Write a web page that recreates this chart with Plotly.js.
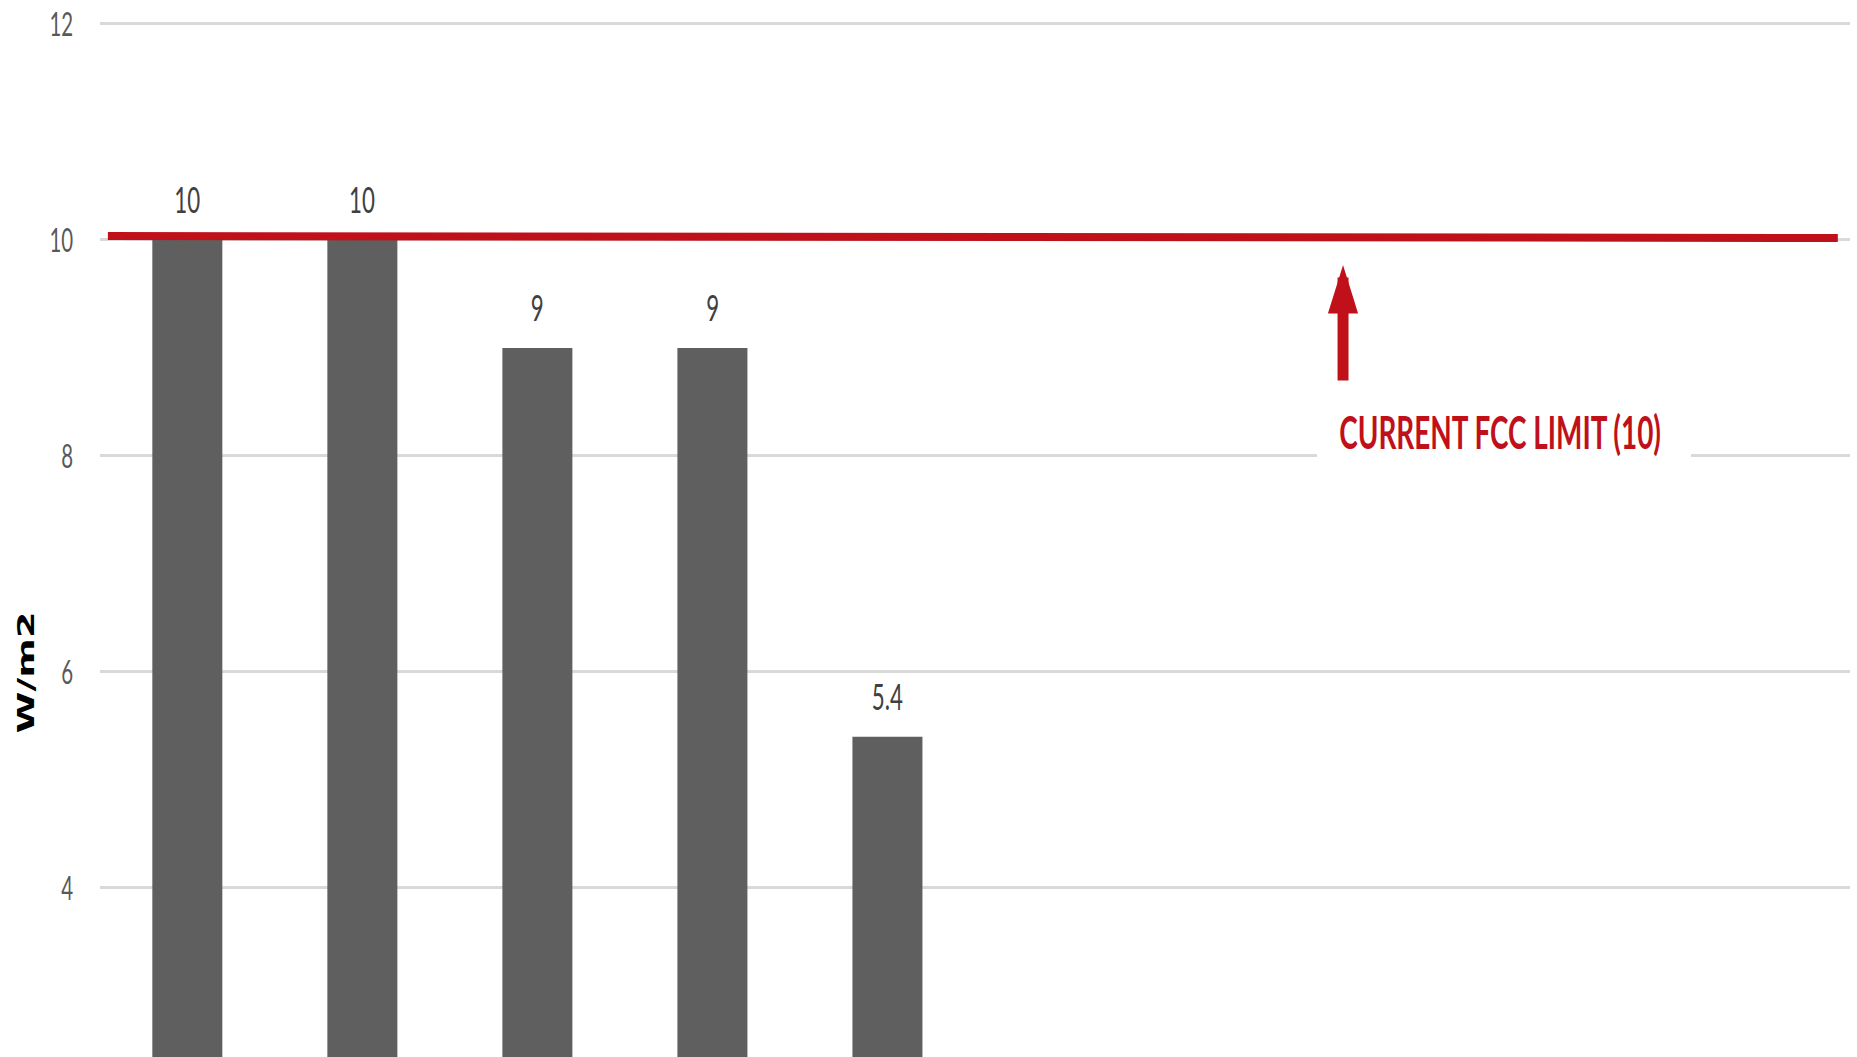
<!DOCTYPE html>
<html>
<head>
<meta charset="utf-8">
<script src="https://cdn.plot.ly/plotly-3.0.1.min.js"></script>
<style>
  html, body { margin: 0; padding: 0; width: 1857px; height: 1057px; overflow: hidden; background: #ffffff; }
  /* The chart is laid out wide and then narrowed horizontally for a condensed look. */
  #frame { width: 2995px; height: 1057px; transform: scaleX(0.62); transform-origin: 0 0; }
</style>
</head>
<body>
<div id="frame"><div id="chart"></div></div>
<script>
// Power density per measured slot (W/m2)
const slots = [0, 1, 2, 3, 4];
const exposure = [10, 10, 9, 9, 5.4];
const slotCount = 10;

// Regulatory limit
const fccLimit = 10;
const limitLabel = 'CURRENT FCC LIMIT (10)';

// Axis ticks
const yTicks = [4, 6, 8, 10, 12];
const yTickText = ['4', '6', '8', '10', '12'];
const yTitle = 'W/m2';

const SX = 0.62;            // horizontal squeeze applied by CSS
const W = 2995, H = 1057;
const ML = 100 / SX, MR = 7 / SX;

const barTrace = {
  type: 'bar',
  x: slots,
  y: exposure,
  width: 0.4,
  marker: { color: '#5f5f5f', line: { width: 0 } },
  hoverinfo: 'skip',
  showlegend: false
};

const valueLabels = slots.map((s, i) => ({
  x: s, y: exposure[i], xref: 'x', yref: 'y',
  text: String(exposure[i]),
  showarrow: false,
  yanchor: 'middle', xanchor: 'center',
  yshift: 41,
  font: { family: 'Lato, "Open Sans", sans-serif', size: 36, color: '#404040' }
}));

const layout = {
  width: W, height: H,
  margin: { l: ML, r: MR, t: 0, b: 0, pad: 0 },
  paper_bgcolor: '#ffffff', plot_bgcolor: '#ffffff',
  showlegend: false,
  bargap: 0.6,
  xaxis: {
    range: [-0.5, slotCount - 0.5],
    showticklabels: false, showgrid: false, zeroline: false, showline: false, ticks: ''
  },
  yaxis: {
    range: [2.435, 12.222],
    tickvals: yTicks, ticktext: yTickText,
    showgrid: true, gridcolor: '#d9d9d9', gridwidth: 3,
    zeroline: false, showline: false, ticks: '',
    ticklabelstandoff: 42,
    tickfont: { family: 'Lato, "Open Sans", sans-serif', size: 33, color: '#595959' }
  },
  shapes: [{
    // limit line, sitting just on top of the value 10
    type: 'line', layer: 'above',
    xref: 'paper', yref: 'y',
    ysizemode: 'pixel', yanchor: fccLimit,
    x0: 0.0046, x1: 0.993, y0: 4, y1: 2,
    line: { color: '#c0111b', width: 8 }
  }, {
    // gap in the 8 gridline behind the limit label
    type: 'rect', layer: 'above',
    xref: 'x', yref: 'y',
    x0: 6.454, x1: 8.591, y0: 7.93, y1: 8.06,
    line: { width: 0 }, fillcolor: '#ffffff'
  }],
  annotations: valueLabels.concat([
    {
      // arrow pointing up at the limit line
      x: 6.603, y: 9.769, xref: 'x', yref: 'y',
      text: '', showarrow: true,
      ax: 0, ay: 117, axref: 'pixel', ayref: 'pixel',
      arrowhead: 2, arrowsize: 0.55, arrowwidth: 17.7, arrowcolor: '#c0111b',
      standoff: 0, startstandoff: 0
    },
    {
      x: 7.5, y: 8.222, xref: 'x', yref: 'y',
      text: '<b>' + limitLabel + '</b>',
      showarrow: false,
      xanchor: 'center', yanchor: 'middle',
      font: { family: 'Lato, "Open Sans", sans-serif', size: 45, color: '#c0111b' }
    },
    {
      x: (26.5 / SX - ML) / (W - ML - MR), y: 1 - 672 / H,
      xref: 'paper', yref: 'paper',
      text: '<b>' + yTitle + '</b>',
      textangle: -90, showarrow: false,
      xanchor: 'center', yanchor: 'middle',
      font: { family: '"DejaVu Sans", Verdana, sans-serif', size: 38, color: '#000000' }
    }
  ])
};

Plotly.newPlot('chart', [barTrace], layout, { displayModeBar: false, staticPlot: true });
</script>
</body>
</html>
